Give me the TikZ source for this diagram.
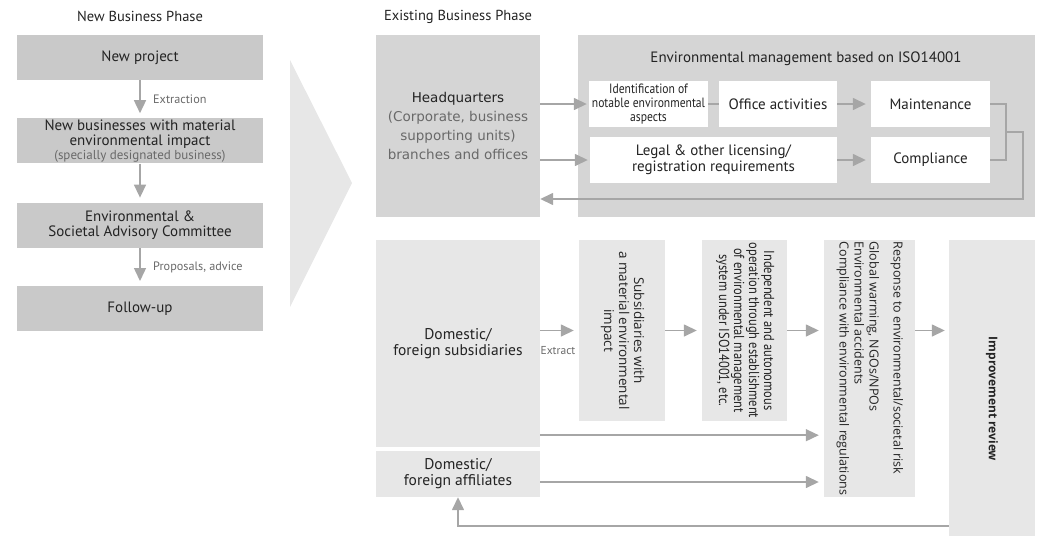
\documentclass[tikz,border=0pt]{standalone}
\usepackage{fontspec}
\setmainfont{PT Sans}
\newfontfamily\hqfont{DejaVu Sans}
\newfontfamily\segfont{Open Sans}
\newfontfamily\narrowfont[FakeStretch=0.86]{PT Sans}
\usetikzlibrary{arrows.meta, positioning, calc}

\definecolor{boxdark}{RGB}{201,201,201}
\definecolor{boxmid}{RGB}{213,213,213}
\definecolor{boxlight}{RGB}{231,231,231}
\definecolor{linegray}{RGB}{166,166,166}
\definecolor{txtgray}{RGB}{105,105,105}
\definecolor{txtdark}{RGB}{35,35,35}

\newcommand{\vtext}[2]{\rotatebox{-90}{\begin{tabular}{@{}#1@{}}#2\end{tabular}}}

\begin{document}
\begin{tikzpicture}[
    x=1pt, y=-1pt,
    newbox/.style={fill=boxdark, minimum width=246pt, minimum height=45pt, inner sep=0pt, align=center, text=txtdark, font=\fontsize{15}{15.5}\selectfont},
    hqbox/.style={fill=boxmid, inner sep=0pt, align=center},
    whitebox/.style={fill=white, inner sep=0pt, minimum height=46pt, align=center, text=txtdark, font=\fontsize{15}{16}\selectfont},
    lowbox/.style={fill=boxlight, inner sep=0pt, align=center, text=txtdark},
    phase/.style={font=\fontsize{14.5}{16}\selectfont, text=txtdark},
    note/.style={font=\fontsize{12.2}{14}\selectfont, text=txtgray, anchor=west, inner sep=0pt},
    line/.style={draw=linegray, line width=1.5pt},
    arrow/.style={line, -{Triangle[length=13pt, width=12pt]}, shorten >=5pt}
]
\useasboundingbox (0,0) rectangle (1042,536);

% New business phase
\node[newbox] (newproj) at (140,57.5) {New project};
\node[newbox, below=38pt of newproj] (material) {New businesses with material\\environmental impact\\[-2pt]{\fontsize{13}{13}\selectfont\color{txtgray}(specially designated business)}};
\node[newbox, below=39pt of material] (committee) {Environmental \&\\Societal Advisory Committee};
\node[newbox, below=38pt of committee] (followup) {Follow-up};
\node[phase] (newphase) at (newproj.north |- 0,16) {New Business Phase};

\node[note] (extraction) at (153,99) {Extraction};
\node[note] (advice) at (153,267) {Proposals, advice};

% Big transition arrow
\fill[boxlight] (290,60) -- (352,183) -- (290,307) -- cycle;

% Existing business phase: headquarters
\node[hqbox, minimum width=164pt, minimum height=182pt] (hq) at (458,126) {};
\node[font=\hqfont\fontsize{13.5}{19}\selectfont, text=txtgray, align=center] (hqtext) at (hq) {{\color{txtdark}Headquarters}\\(Corporate, business\\supporting units)\\branches and offices};
\node[phase] (oldphase) at (hq.north |- 0,17) {Existing Business Phase};

\node[hqbox, minimum width=457pt, minimum height=182pt] (ems) at (806.5,126) {};
\node[font=\fontsize{15}{16}\selectfont, text=txtdark] (emstitle) at (806,59) {Environmental management based on ISO14001};

\node[whitebox, minimum width=119pt, font=\narrowfont\fontsize{13.5}{14}\selectfont] (ident) at (648.5,104) {Identification of\\notable environmental\\aspects};
\node[whitebox, minimum width=118pt] (office) at (778,104) {Office activities};
\node[whitebox, minimum width=119pt] (maint) at (930.5,104) {Maintenance};
\node[whitebox, minimum width=247pt] (legal) at (713.5,160) {Legal \& other licensing/\\registration requirements};
\node[whitebox, minimum width=119pt] (comply) at (930.5,160) {Compliance};

\coordinate (bracket) at (1006,132);
\coordinate (back) at (1023,199);

\draw[arrow, shorten >=2pt] (hq.east |- ident.west) -- (ident.west);
\draw[arrow, shorten >=2pt] (hq.east |- legal.west) -- (legal.west);
\draw[line] (ident) -- (office);
\draw[arrow] (office) -- (maint);
\draw[arrow] (legal) -- (comply);
\draw[line] (maint.east) -| (bracket) |- (comply.east);
\draw[arrow, shorten >=0pt] (bracket) -| (back) -- (hq.east |- back);

% Subsidiaries and affiliates
\node[lowbox, minimum width=164pt, minimum height=207pt, font=\fontsize{15.5}{16}\selectfont] (subs) at (458,343.5) {Domestic/\\foreign subsidiaries};
\node[lowbox, minimum width=164pt, minimum height=46pt, font=\fontsize{15.5}{16}\selectfont] (affil) at (458,474) {Domestic/\\foreign affiliates};

\node[lowbox, minimum width=86pt, minimum height=181pt, font=\segfont\fontsize{13.5}{15}\selectfont] (impact) at (622,330.5) {\vtext{c}{Subsidiaries with\\a material environmental\\impact}};
\node[lowbox, minimum width=85pt, minimum height=181pt, font=\narrowfont\fontsize{14.5}{15}\selectfont] (autonomy) at (744.5,330.5) {\vtext{c}{Independent and autonomous\\operation through establishment\\of environmental management\\system under ISO14001, etc.}};
\node[lowbox, minimum width=91pt, minimum height=257pt, font=\segfont\fontsize{12.5}{15}\selectfont] (risk) at (869.5,368.5) {\vtext{l}{Response to environmental/societal risk\\[9pt]Global warming, NGOs/NPOs\\Environmental accidents\\Compliance with environmental regulations}};
\node[lowbox, minimum width=86pt, minimum height=296pt, font=\segfont\bfseries\fontsize{12}{15}\selectfont] (review) at (992,388) {\rotatebox{-90}{\hspace{22pt}Improvement review}};

\node[font=\fontsize{11.5}{12}\selectfont, text=txtgray] (extract) at (558,351) {Extract};

\coordinate (subsout) at ([yshift=12pt]subs.south east);
\coordinate (affilout) at ([yshift=-8pt]affil.east);
\coordinate (feedback) at ([yshift=10pt]review.south west);

% Arrows
\draw[arrow] (newproj) -- (material);
\draw[arrow] (material) -- (committee);
\draw[arrow] (committee) -- (followup);

\draw[arrow] (subs.east |- impact.west) -- (impact.west);
\draw[arrow] (impact) -- (autonomy);
\draw[arrow] (autonomy.east) -- (risk.west |- autonomy.east);
\draw[arrow, shorten >=4pt] (risk.east |- autonomy.east) -- (review.west |- autonomy.east);
\draw[arrow] (subsout) -- (subsout -| risk.west);
\draw[arrow] (affilout) -- (affilout -| risk.west);
\draw[arrow, shorten >=0pt] (feedback) -| (affil.south);

\end{tikzpicture}
\end{document}
